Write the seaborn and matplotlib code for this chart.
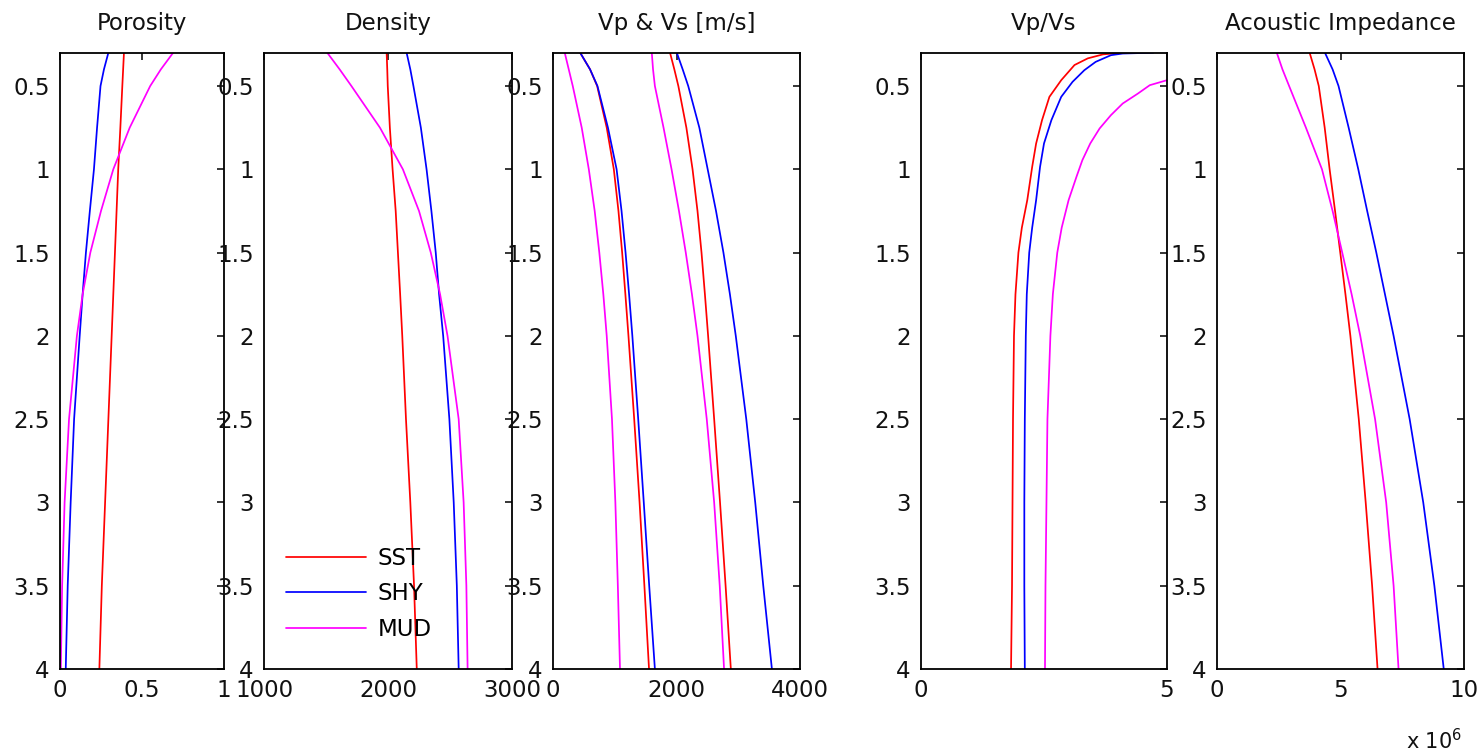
import matplotlib
matplotlib.use("Agg")
import matplotlib.pyplot as plt
from matplotlib.lines import Line2D
import pandas as pd
import seaborn as sns

# ---------------- data ----------------
lithologies = ["SST", "SHY", "MUD"]
colors = ["#ff0000", "#0000ff", "#ff00ff"]

depth = [0.3, 0.4, 0.5, 0.75, 1.0, 1.25, 1.5, 1.75, 2.0, 2.5, 3.0, 3.5, 4.0]

porosity_sst = [0.39, 0.385, 0.38, 0.368, 0.355, 0.345, 0.335, 0.325, 0.315, 0.295, 0.275, 0.255, 0.24]
porosity_shy = [0.295, 0.268, 0.247, 0.226, 0.207, 0.182, 0.158, 0.138, 0.12, 0.086, 0.065, 0.047, 0.035]
porosity_mud = [0.69, 0.615, 0.55, 0.425, 0.325, 0.25, 0.185, 0.138, 0.103, 0.055, 0.028, 0.013, 0.005]

density_sst = [1989, 1994, 1998, 2015, 2037, 2062, 2080, 2098, 2115, 2145, 2180, 2210, 2232]
density_shy = [2150, 2180, 2205, 2265, 2311, 2350, 2385, 2412, 2445, 2495, 2530, 2555, 2570]
density_mud = [1510, 1610, 1705, 1935, 2120, 2250, 2345, 2420, 2480, 2570, 2610, 2632, 2642]

vs_sst = [440, 600, 715, 870, 985, 1060, 1120, 1172, 1222, 1315, 1402, 1480, 1555]
vs_shy = [440, 600, 720, 890, 1030, 1110, 1175, 1232, 1285, 1380, 1470, 1558, 1650]
vs_mud = [190, 255, 320, 465, 580, 675, 750, 815, 870, 955, 1010, 1050, 1085]
vp_sst = [1895, 1965, 2030, 2160, 2260, 2340, 2405, 2460, 2512, 2610, 2705, 2795, 2880]
vp_shy = [2005, 2100, 2190, 2370, 2505, 2640, 2760, 2865, 2960, 3130, 3275, 3405, 3545]
vp_mud = [1600, 1620, 1650, 1790, 1920, 2040, 2150, 2250, 2340, 2490, 2610, 2700, 2770]

ratio_depth_sst = [0.3, 0.31, 0.334, 0.374, 0.465, 0.565, 0.705, 0.845, 0.985, 1.185, 1.35, 1.5, 1.75, 2.0, 2.5, 3.0, 3.5, 4.0]
ratio_sst = [4.1, 3.7, 3.39, 3.12, 2.85, 2.61, 2.46, 2.34, 2.26, 2.16, 2.05, 1.98, 1.92, 1.89, 1.87, 1.86, 1.85, 1.83]
ratio_depth_shy = [0.3, 0.305, 0.315, 0.355, 0.405, 0.475, 0.565, 0.705, 0.845, 0.985, 1.185, 1.35, 1.5, 1.75, 2.0, 2.5, 3.0, 3.5, 4.0]
ratio_shy = [4.72, 4.1, 3.86, 3.55, 3.32, 3.08, 2.85, 2.65, 2.50, 2.42, 2.34, 2.26, 2.2, 2.15, 2.13, 2.11, 2.1, 2.1, 2.11]
ratio_depth_mud = [0.3, 0.4, 0.465, 0.495, 0.545, 0.605, 0.675, 0.755, 0.845, 0.945, 1.045, 1.185, 1.35, 1.5, 1.75, 2.0, 2.5, 3.0, 3.5, 4.0]
ratio_mud = [7.0, 5.6, 5.0, 4.65, 4.41, 4.1, 3.86, 3.63, 3.44, 3.28, 3.16, 3.0, 2.86, 2.77, 2.68, 2.63, 2.57, 2.55, 2.53, 2.52]

# acoustic impedance in units of 10^6
ai_sst = [3.75, 3.95, 4.12, 4.36, 4.56, 4.78, 4.99, 5.2, 5.4, 5.74, 6.02, 6.28, 6.5]
ai_shy = [4.37, 4.68, 4.92, 5.33, 5.72, 6.08, 6.45, 6.8, 7.15, 7.8, 8.35, 8.8, 9.18]
ai_mud = [2.42, 2.65, 2.92, 3.6, 4.25, 4.68, 5.07, 5.45, 5.8, 6.4, 6.85, 7.15, 7.35]

y_ticks = [0.5, 1, 1.5, 2, 2.5, 3, 3.5, 4]
y_ticklabels = ["0.5", "1", "1.5", "2", "2.5", "3", "3.5", "4"]

titles = ["Porosity", "Density", "Vp & Vs [m/s]", "Vp/Vs", "Acoustic Impedance"]
x_limits = [(0, 1), (1000, 3000), (0, 4000), (0, 5), (0, 10)]
x_ticks = [[0, 0.5, 1], [1000, 2000, 3000], [0, 2000, 4000], [0, 5], [0, 5, 10]]
x_ticklabels = [["0", "0.5", "1"], ["1000", "2000", "3000"], ["0", "2000", "4000"], ["0", "5"], ["0", "5", "10"]]

# ---------------- style ----------------
sns.set_style("white")
plt.rcParams["font.family"] = ["DejaVu Sans"]
plt.rcParams["text.color"] = "black"

W, H = 1484, 751
fig = plt.figure(figsize=(W / 100, H / 100), dpi=100)
fig.patch.set_facecolor("white")

top_px, bot_px = 52.7, 669
panels_px = [(60, 224), (264, 512), (553, 800), (921, 1167), (1217, 1464)]
axes = [fig.add_axes([l / W, 1 - bot_px / H, (r - l) / W, (bot_px - top_px) / H]) for l, r in panels_px]

palette = dict(zip(lithologies, colors))
FS = 16.5
LW = 1.25


def grid_frame(sst, shy, mud, d=depth):
    return pd.DataFrame({
        "depth": list(d) * 3,
        "value": list(sst) + list(shy) + list(mud),
        "lith": [lithologies[0]] * len(d) + [lithologies[1]] * len(d) + [lithologies[2]] * len(d),
    })


def draw(ax, df):
    sns.lineplot(data=df, x="value", y="depth", hue="lith", hue_order=lithologies,
                 palette=palette, orient="y", estimator=None, sort=True,
                 legend=False, linewidth=LW, ax=ax)


draw(axes[0], grid_frame(porosity_sst, porosity_shy, porosity_mud))
draw(axes[1], grid_frame(density_sst, density_shy, density_mud))
draw(axes[2], grid_frame(vs_sst, vs_shy, vs_mud))
draw(axes[2], grid_frame(vp_sst, vp_shy, vp_mud))
ratio_df = pd.DataFrame({
    "depth": ratio_depth_sst + ratio_depth_shy + ratio_depth_mud,
    "value": ratio_sst + ratio_shy + ratio_mud,
    "lith": ["SST"] * len(ratio_sst) + ["SHY"] * len(ratio_shy) + ["MUD"] * len(ratio_mud),
})
draw(axes[3], ratio_df)
draw(axes[4], grid_frame(ai_sst, ai_shy, ai_mud))

for ax, title, xl, xt, xtl in zip(axes, titles, x_limits, x_ticks, x_ticklabels):
    ax.set_xlim(*xl)
    ax.set_ylim(4, 0.3)
    ax.set_xticks(xt)
    ax.set_xticklabels(xtl)
    ax.set_yticks(y_ticks)
    ax.set_yticklabels(y_ticklabels)
    ax.set_xlabel("")
    ax.set_ylabel("")
    ax.grid(False)
    ax.set_facecolor("white")
    ax.tick_params(direction="in", top=True, right=True, length=5, width=1.1,
                   labelsize=FS, pad=7.3, colors="black", labelcolor="#111111")
    for s in ax.spines.values():
        s.set_visible(True)
        s.set_color("black")
        s.set_linewidth(1.3)
    ax.set_title(title, fontsize=FS, pad=16, color="#111111")

handles = [Line2D([0], [0], color=c, lw=LW) for c in colors]
axes[1].legend(handles, lithologies, loc="center left", bbox_to_anchor=(0.088, 0.122),
               frameon=False, fontsize=FS, handlelength=3.5, handletextpad=0.5,
               labelspacing=0.55, borderpad=0, borderaxespad=0)

fig.text(1462 / W, 1 - 749 / H, r"x 10$^{6}$", ha="right", va="baseline", fontsize=15, color="#111111")

fig.savefig("out.png", dpi=100, facecolor="white")
